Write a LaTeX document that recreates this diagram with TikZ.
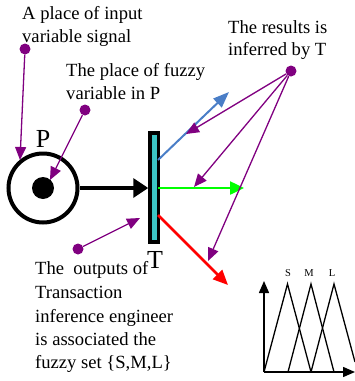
\documentclass[tikz,border=0pt]{standalone}
\usepackage{fontspec}
\setmainfont{Liberation Serif}
\usetikzlibrary{arrows.meta}
\definecolor{pur}{HTML}{800080}
\definecolor{bararrow}{HTML}{4A7EC7}
\definecolor{tealfill}{HTML}{3CC4C4}
\definecolor{grn}{HTML}{00FF00}
\definecolor{rd}{HTML}{FF0000}
\begin{document}
\begin{tikzpicture}[x=1pt,y=-1pt,
  lbl/.style={anchor=base west, inner sep=0pt, font=\fontsize{18.6}{22}\selectfont},
  big/.style={anchor=base, inner sep=0pt, font=\fontsize{26}{30}\selectfont},
  small/.style={anchor=base, inner sep=0pt, font=\fontsize{10.5}{12}\selectfont},
  pdot/.style={circle, fill=pur, inner sep=0pt, minimum size=11pt},
  parr/.style={draw=pur, line width=1.3pt, -{Triangle[length=13pt,width=11pt]}},
  place/.style={circle, draw=black, line width=4pt, minimum size=69pt, inner sep=0pt},
  token/.style={circle, fill=black, minimum size=22pt, inner sep=0pt},
  trans/.style={draw=black, line width=3.5pt, fill=tealfill, minimum width=8.5pt, minimum height=109pt, inner sep=0pt},
  axis/.style={line width=1.5pt, -{Triangle[length=12pt,width=10pt]}},
  tri/.style={line width=1.3pt}
]
\useasboundingbox (0,0) rectangle (355,381);

% texts
\node[lbl] (in1) at (22,19) {A place of input};
\node[lbl] (in2) at (22,42) {variable signal};
\node[lbl] (fz1) at (66,76) {The place of fuzzy};
\node[lbl] (fz2) at (66,99) {variable in P};
\node[lbl] (rs1) at (228,33) {The results is};
\node[lbl] (rs2) at (228,55) {inferred by T};
\node[lbl] (ot1) at (35,274) {The~~outputs of};
\node[lbl] (ot2) at (35,298) {Transaction};
\node[lbl] (ot3) at (35,322) {inference engineer};
\node[lbl] (ot4) at (35,345) {is associated the};
\node[lbl] (ot5) at (35,368) {fuzzy set \{S,M,L\}};

% place and transition
\node[place] (P) at (43,188) {};
\node[token] (tok) at (43,188) {};
\node[big] (Plbl) at (43,147) {P};
\node[trans] (T) at (154.25,187.5) {};
\node[big] (Tlbl) at (155,268) {T};

\draw[line width=3.5pt, -{Triangle[length=15pt,width=19pt]}] (P.east) -- (T.west |- P.east);

% output arrows
\coordinate (bS) at (158,160);
\coordinate (bE) at (229,92);
\coordinate (gS) at (158,188);
\coordinate (gE) at (244,188);
\coordinate (rS) at (158,215);
\coordinate (rE) at (228,285);
\draw[draw=bararrow, line width=2pt, -{Triangle[length=16pt,width=12pt]}] (bS) -- (bE);
\draw[draw=grn, line width=2.5pt, -{Triangle[length=14pt,width=13pt]}] (gS) -- (gE);
\draw[draw=rd, line width=2.5pt, -{Triangle[length=15pt,width=13pt]}] (rS) -- (rE);

% purple pointers
\node[pdot] (dIn) at (25,49) {};
\node[pdot] (dFz) at (85,110) {};
\node[pdot] (dOt) at (78,249) {};
\node[pdot] (dRs) at (291,71) {};
\coordinate (tIn) at (20,160);
\coordinate (tFz) at (50,180);
\coordinate (tOt) at (140,218);
\coordinate (tR1) at (186,134);
\coordinate (tR2) at (194,187);
\coordinate (tR3) at (208,261);
\draw[parr] (dIn) -- (tIn);
\draw[parr] (dFz) -- (tFz);
\draw[parr] (dOt) -- (tOt);
\draw[parr] (dRs) -- (tR1);
\draw[parr] (dRs) -- (tR2);
\draw[parr] (dRs) -- (tR3);

% fuzzy sets graph
\coordinate (O) at (264,372);
\coordinate (Ytop) at (264,281);
\coordinate (Xend) at (355,372);
\draw[axis] (O) -- (Ytop);
\draw[axis] (O) -- (Xend);
\draw[tri] (264,372) -- (287.5,284) -- (311,372);
\draw[tri] (288,372) -- (311,284) -- (334,372);
\draw[tri] (311,372) -- (334,284) -- (355,362);
\node[small] (S) at (288,276) {S};
\node[small] (M) at (309,276) {M};
\node[small] (L) at (332,276) {L};
\end{tikzpicture}
\end{document}
